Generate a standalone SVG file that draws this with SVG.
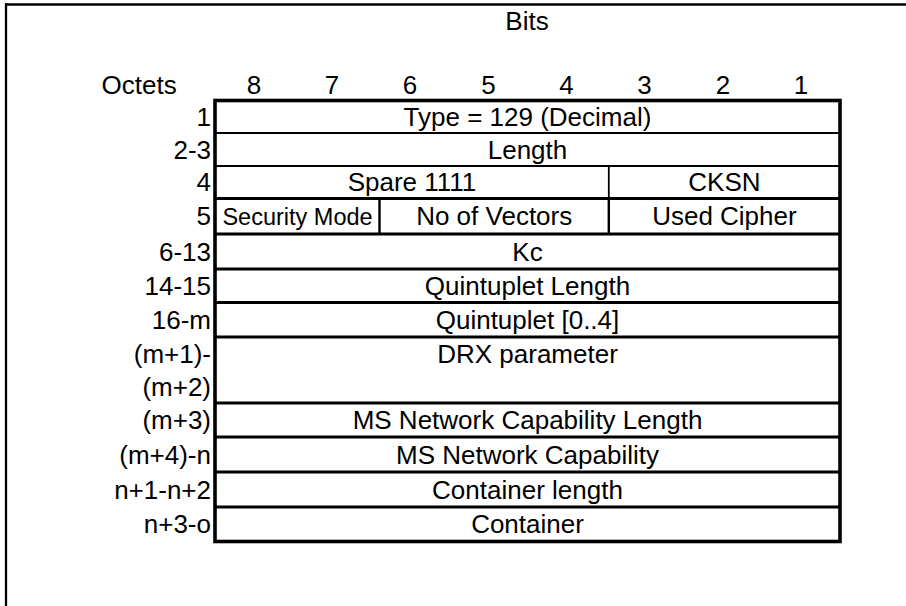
<svg xmlns="http://www.w3.org/2000/svg" width="906" height="606" viewBox="0 0 906 606">
<style>
text{font-family:"Liberation Sans",Arial,sans-serif;font-size:26px;fill:#000}
.c{text-anchor:middle}
.r{text-anchor:end}
.sm{font-size:23.5px}
.thick{stroke:#000;stroke-width:3.2;fill:none}
.thin{stroke:#000;stroke-width:1.8;fill:none}
.mid{stroke:#000;stroke-width:2.4;fill:none}
</style>
<rect width="906" height="606" fill="#fff"/>
<g id="frame">
<line x1="5" y1="4.5" x2="906" y2="4.5" stroke="#000" stroke-width="2.3"/>
<line x1="6" y1="3.5" x2="6" y2="606" stroke="#000" stroke-width="2.3"/>
</g>
<g id="header">
<text class="c" x="527" y="30">Bits</text>
<text x="101.5" y="94">Octets</text>
<text class="c" x="254" y="94">8</text>
<text class="c" x="332" y="94">7</text>
<text class="c" x="410" y="94">6</text>
<text class="c" x="488.5" y="94">5</text>
<text class="c" x="566.5" y="94">4</text>
<text class="c" x="644.5" y="94">3</text>
<text class="c" x="723" y="94">2</text>
<text class="c" x="801" y="94">1</text>
</g>
<g id="octet-labels">
<text class="r" x="211" y="126">1</text>
<text class="r" x="211" y="158.5">2-3</text>
<text class="r" x="211" y="191.3">4</text>
<text class="r" x="211" y="225.3">5</text>
<text class="r" x="211" y="260.5">6-13</text>
<text class="r" x="211" y="294.8">14-15</text>
<text class="r" x="211" y="328.8">16-m</text>
<text class="r" x="211" y="362.5">(m+1)-</text>
<text class="r" x="211" y="395.5">(m+2)</text>
<text class="r" x="211" y="429">(m+3)</text>
<text class="r" x="211" y="463.5">(m+4)-n</text>
<text class="r" x="211" y="498.5">n+1-n+2</text>
<text class="r" x="211" y="533.3">n+3-o</text>
</g>
<g id="connectors">
<g id="grid">
<line class="thin" x1="215" y1="133" x2="840" y2="133"/>
<line class="thin" x1="215" y1="166" x2="840" y2="166"/>
<line class="thick" x1="215" y1="198.5" x2="840" y2="198.5"/>
<line class="thick" x1="215" y1="234" x2="840" y2="234"/>
<line class="thick" x1="215" y1="269" x2="840" y2="269"/>
<line class="thick" x1="215" y1="302.5" x2="840" y2="302.5"/>
<line class="thick" x1="215" y1="337" x2="840" y2="337"/>
<line class="thick" x1="215" y1="403" x2="840" y2="403"/>
<line class="thick" x1="215" y1="437" x2="840" y2="437"/>
<line class="thick" x1="215" y1="472" x2="840" y2="472"/>
<line class="thick" x1="215" y1="507" x2="840" y2="507"/>
<line class="thin" x1="608.8" y1="166" x2="608.8" y2="198.5"/>
<line class="mid" x1="379.5" y1="198.5" x2="379.5" y2="234"/>
<line class="mid" x1="608.8" y1="198.5" x2="608.8" y2="234"/>
<rect x="215" y="100.5" width="625" height="441" fill="none" stroke="#000" stroke-width="3.6"/>
</g>
</g>
<g id="type"><text class="c" x="527.5" y="126">Type = 129 (Decimal)</text></g>
<g id="length"><text class="c" x="527.5" y="158.5">Length</text></g>
<g id="spare"><text class="c" x="412" y="191.3">Spare 1111</text></g>
<g id="cksn"><text class="c" x="724.4" y="191.3">CKSN</text></g>
<g id="security-mode"><text class="c sm" x="297.5" y="224.8">Security Mode</text></g>
<g id="no-of-vectors"><text class="c" x="494.2" y="225.3">No of Vectors</text></g>
<g id="used-cipher"><text class="c" x="724.4" y="225.3">Used Cipher</text></g>
<g id="kc"><text class="c" x="527.5" y="260.5">Kc</text></g>
<g id="quintuplet-length"><text class="c" x="527.5" y="294.8">Quintuplet Length</text></g>
<g id="quintuplet"><text class="c" x="527.5" y="328.8">Quintuplet [0..4]</text></g>
<g id="drx"><text class="c" x="527.5" y="362.5">DRX parameter</text></g>
<g id="ms-net-cap-length"><text class="c" x="527.5" y="429">MS Network Capability Length</text></g>
<g id="ms-net-cap"><text class="c" x="527.5" y="463.5">MS Network Capability</text></g>
<g id="container-length"><text class="c" x="527.5" y="498.5">Container length</text></g>
<g id="container"><text class="c" x="527.5" y="533.3">Container</text></g>
</svg>
